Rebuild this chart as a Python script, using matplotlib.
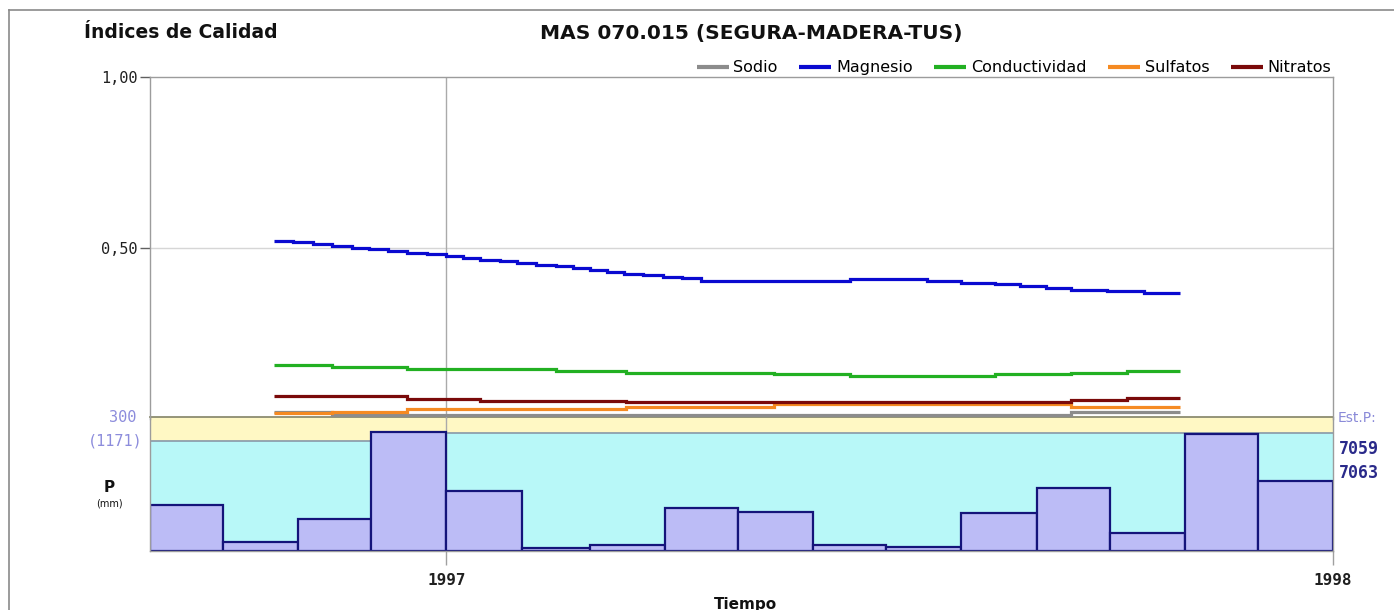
import numpy as np
import matplotlib
matplotlib.use('Agg')
import matplotlib.pyplot as plt
import matplotlib.dates as mdates

W, H = 1394, 610

# ---------------- data ----------------
month_starts = ['1996-09-01', '1996-10-01', '1996-11-01', '1996-12-01',
                '1997-01-01', '1997-02-01', '1997-03-01', '1997-04-01',
                '1997-05-01', '1997-06-01', '1997-07-01', '1997-08-01',
                '1997-09-01', '1997-10-01', '1997-11-01', '1997-12-01']
period_end = '1998-01-01'
precip_mm = [103, 20, 72, 266, 134, 7, 13, 96, 87, 13, 9, 85, 141, 40, 262, 157]
cyan_top_mm = [246, 246, 246, 264, 264, 264, 264, 264, 264, 264, 264, 264,
               264, 264, 264, 264]
p_axis_max = 300
p_axis_label = '300'
p_total_label = '(1171)'
stations = ['7059', '7063']

year_ticks = ['1997-01-01', '1998-01-01']
year_labels = ['1997', '1998']
q_ticks = [0.5, 1.0]
q_tick_labels = ['0,50', '1,00']

sodio_dates = ['1996-10-22', '1996-11-15', '1997-09-15', '1997-10-30']
sodio_vals = [0.020, 0.012, 0.020, 0.020]

magnesio_dates = ['1996-10-22', '1996-10-30', '1996-11-07', '1996-11-15', '1996-11-23',
                  '1996-11-30', '1996-12-08', '1996-12-16', '1996-12-24', '1997-01-01',
                  '1997-01-08', '1997-01-15', '1997-01-23', '1997-01-30', '1997-02-07',
                  '1997-02-15', '1997-02-22', '1997-03-01', '1997-03-08', '1997-03-15',
                  '1997-03-23', '1997-03-31', '1997-04-08', '1997-04-16', '1997-06-16',
                  '1997-07-18', '1997-08-01', '1997-08-15', '1997-08-25', '1997-09-05',
                  '1997-09-15', '1997-09-30', '1997-10-15', '1997-10-30']
magnesio_vals = [0.521, 0.517, 0.511, 0.506, 0.500, 0.496, 0.490, 0.485, 0.481, 0.477,
                 0.472, 0.466, 0.461, 0.457, 0.451, 0.446, 0.441, 0.436, 0.431, 0.425,
                 0.421, 0.416, 0.411, 0.404, 0.408, 0.404, 0.399, 0.394, 0.389, 0.383,
                 0.378, 0.373, 0.368, 0.368]

conduct_dates = ['1996-10-22', '1996-11-15', '1996-12-16', '1997-02-15', '1997-03-16',
                 '1997-05-16', '1997-06-16', '1997-08-15', '1997-09-15', '1997-10-08',
                 '1997-10-30']
conduct_vals = [0.157, 0.151, 0.146, 0.141, 0.135, 0.131, 0.126, 0.131, 0.135, 0.141, 0.141]

sulfatos_dates = ['1996-10-22', '1996-11-15', '1996-12-16', '1997-03-16', '1997-05-16',
                  '1997-09-15', '1997-10-30']
sulfatos_vals = [0.019, 0.021, 0.029, 0.035, 0.044, 0.035, 0.035]

nitratos_dates = ['1996-10-22', '1996-12-16', '1997-01-15', '1997-03-16', '1997-09-15',
                  '1997-10-08', '1997-10-30']
nitratos_vals = [0.066, 0.059, 0.054, 0.049, 0.055, 0.060, 0.060]

series = [
    ('Sodio', sodio_dates, sodio_vals, '#8c8c8c'),
    ('Magnesio', magnesio_dates, magnesio_vals, '#0a0ad0'),
    ('Conductividad', conduct_dates, conduct_vals, '#22b022'),
    ('Sulfatos', sulfatos_dates, sulfatos_vals, '#f58a22'),
    ('Nitratos', nitratos_dates, nitratos_vals, '#7a0a0a'),
]

# ---------------- figure ----------------
d2n = mdates.datestr2num
fig = plt.figure(figsize=(W / 100, H / 100), dpi=100)
fig.patch.set_facecolor('white')


def fx(x):
    return x / W


def fy(y):
    return 1 - y / H


x0, x1 = d2n('1996-09-01'), d2n(period_end)
L, R = 150, 1333
ax = fig.add_axes([fx(L), fy(419), (R - L) / W, (419 - 77) / H])
axp = fig.add_axes([fx(L), fy(551), (R - L) / W, (551 - 417) / H])
axp.set_zorder(ax.get_zorder() - 1)
ax.patch.set_alpha(0)

spine_c = '#9c9c9c'
# quality axes
ax.set_xlim(x0, x1)
ax.set_ylim(0, 1)
ax.set_xticks([])
ax.set_yticks(q_ticks)
ax.set_yticklabels(q_tick_labels, family='DejaVu Sans Mono', fontsize=11, color='#202020')
ax.tick_params(axis='y', length=7, width=1, color='#606060', pad=2)
for s in ['top', 'left', 'right']:
    ax.spines[s].set_color(spine_c)
    ax.spines[s].set_linewidth(1)
ax.spines['bottom'].set_visible(False)
ax.axhline(0.5, color='#d6d6d6', lw=1, zorder=0)
ax.axvline(d2n(year_ticks[0]), color='#aaaaaa', lw=1, zorder=0)

handles = []
for name, dates, vals, col in series:
    h, = ax.plot(d2n(dates), vals, drawstyle='steps-post', color=col, lw=2.3,
                 solid_capstyle='butt', solid_joinstyle='miter', label=name)
    handles.append(h)

leg = ax.legend(handles=handles, ncol=5, loc='lower right', bbox_to_anchor=(1.0, 1.0),
                frameon=False, fontsize=11.5, handlelength=2.0, handletextpad=0.3,
                columnspacing=1.35, borderpad=0.05, borderaxespad=0.05)
for lh in leg.get_lines():
    lh.set_linewidth(3)

# precipitation axes
edges = d2n(month_starts + [period_end])
starts = edges[:-1]
widths = np.diff(edges)
axp.set_xlim(x0, x1)
axp.set_ylim(0, p_axis_max)
cy = list(cyan_top_mm) + [cyan_top_mm[-1]]
axp.fill_between(edges, 0, cy, step='post', color='#b8f8f8', lw=0, zorder=0)
axp.fill_between(edges, cy, p_axis_max, step='post', color='#fff8c4', lw=0, zorder=0)
axp.plot(edges, cy, drawstyle='steps-post', color='#8898a8', lw=1.2, zorder=1)
axp.axvline(d2n(year_ticks[0]), color='#aaaaaa', lw=1, zorder=1)
axp.bar(starts, precip_mm, width=widths, align='edge', color='#bcbcf6',
        edgecolor='#14147a', linewidth=1.6, zorder=2)
axp.set_yticks([])
axp.set_xticks(d2n(year_ticks))
axp.set_xticklabels(year_labels, family='DejaVu Sans Mono', fontsize=11.5,
                    fontweight='bold', color='#202020')
axp.tick_params(axis='x', length=10, width=1, color='#a0a0a0', pad=6)
axp.spines['top'].set_color('#8c8c70')
axp.spines['top'].set_linewidth(1.3)
for s in ['left', 'right', 'bottom']:
    axp.spines[s].set_color(spine_c)
    axp.spines[s].set_linewidth(1)

# texts
fig.text(fx(84), fy(33), 'Índices de Calidad', fontsize=13.5, fontweight='bold',
         ha='left', va='center', color='#111111')
fig.text(fx(751), fy(33), 'MAS 070.015 (SEGURA-MADERA-TUS)', fontsize=14.5,
         fontweight='bold', ha='center', va='center', color='#111111')
fig.text(fx(136), fy(417), p_axis_label, family='DejaVu Sans Mono', fontsize=11,
         color='#8c8cdc', ha='right', va='center')
fig.text(fx(143), fy(441), p_total_label, family='DejaVu Sans Mono', fontsize=11,
         color='#8c8cdc', ha='right', va='center')
fig.text(fx(109), fy(488), 'P', fontsize=11, fontweight='bold', ha='center',
         va='center', color='#111111')
fig.text(fx(109), fy(503), '(mm)', fontsize=7, ha='center', va='center',
         color='#111111')
fig.text(fx(1338), fy(418), 'Est.P:', fontsize=10, color='#8a8ad8', ha='left',
         va='center')
for i, st in enumerate(stations):
    fig.text(fx(1339), fy(449 + 24 * i), st, family='DejaVu Sans Mono', fontsize=12,
             fontweight='bold', color='#2a2a8a', ha='left', va='center')
fig.text(fx(745), fy(604), 'Tiempo', fontsize=11, fontweight='bold', ha='center',
         va='center', color='#111111')

# outer frame
fig.add_artist(plt.Line2D([fx(9), fx(W)], [fy(10), fy(10)], color='#8a8a8a', lw=1.2))
fig.add_artist(plt.Line2D([fx(9), fx(9)], [fy(10), fy(H)], color='#8a8a8a', lw=1.2))

fig.savefig('out.png', dpi=100)
